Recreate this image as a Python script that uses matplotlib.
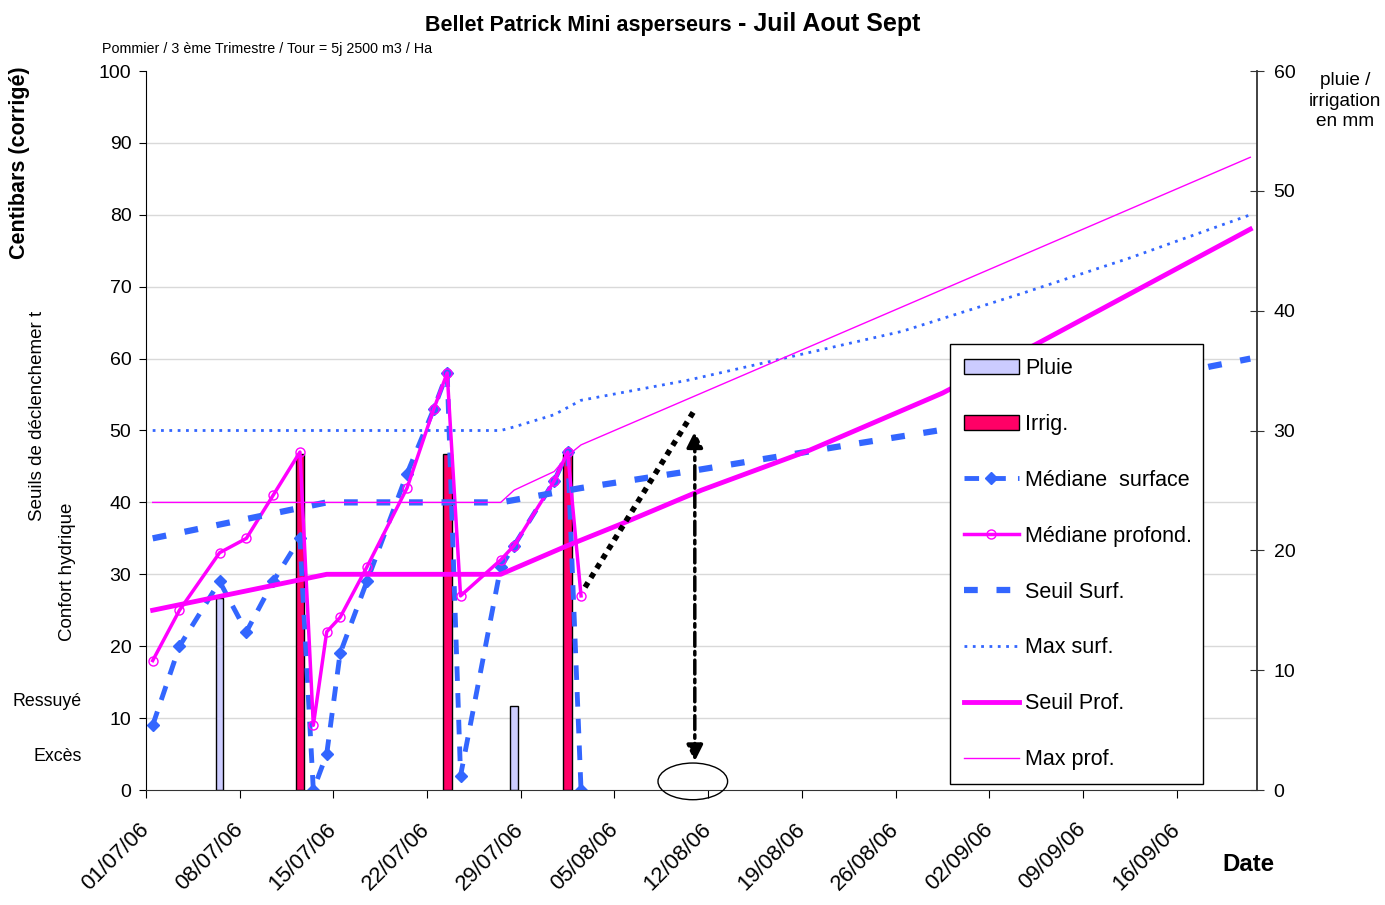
import numpy as np
import pandas as pd
import matplotlib
matplotlib.use('Agg')
import matplotlib.pyplot as plt
import matplotlib.dates as mdates
from matplotlib.patches import Ellipse

plt.rcParams['font.family'] = ['Liberation Sans', 'DejaVu Sans']

# relevés (centibars), tous les jours de mesure
med_dates = ['2006-07-01', '2006-07-03', '2006-07-06', '2006-07-08', '2006-07-10',
             '2006-07-12', '2006-07-13', '2006-07-14', '2006-07-15', '2006-07-17',
             '2006-07-20', '2006-07-22', '2006-07-23', '2006-07-24', '2006-07-27',
             '2006-07-28', '2006-07-31', '2006-08-01', '2006-08-02']
med_surface = [9, 20, 29, 22, 29, 35, 0, 5, 19, 29, 44, 53, 58, 2, 31, 34, 43, 47, 0]
med_profond = [18, 25, 33, 35, 41, 47, 9, 22, 24, 31, 42, 53, 58, 27, 32, 34, 43, 47, 27]

# seuils / max
seuil_surf_dates = ['2006-07-01', '2006-07-14', '2006-07-27', '2006-08-02', '2006-08-11',
                    '2006-08-22', '2006-08-29', '2006-09-18', '2006-09-21']
seuil_surf = [35, 40, 40, 42, 44.6, 48, 50.1, 58.9, 60]

seuil_prof_dates = ['2006-07-01', '2006-07-14', '2006-07-27', '2006-08-01', '2006-08-05',
                    '2006-08-11', '2006-08-19', '2006-08-29', '2006-09-05', '2006-09-21']
seuil_prof = [25, 30, 30, 34, 37, 41.7, 47.2, 55.2, 62, 78]

max_surf_dates = ['2006-07-01', '2006-07-27', '2006-07-28', '2006-07-31', '2006-08-02',
                  '2006-08-10', '2006-08-18', '2006-08-26', '2006-09-04', '2006-09-12',
                  '2006-09-21']
max_surf = [50, 50, 50.5, 52.2, 54.2, 57, 60.4, 63.8, 69.1, 74, 80]

max_prof_dates = ['2006-07-01', '2006-07-27', '2006-07-28', '2006-07-31', '2006-08-01',
                  '2006-08-02', '2006-09-21']
max_prof = [40, 40, 41.7, 44.3, 46.5, 48, 88]

# pluie / irrigation (mm)
pluie_dates = ['2006-07-06', '2006-07-28']
pluie = [16, 7]
irrig_dates = ['2006-07-12', '2006-07-23', '2006-08-01']
irrig = [28, 28, 28]

tick_dates = pd.date_range('2006-07-01', '2006-09-16', freq='7D')
t0 = pd.Timestamp('2006-07-01')
t_end = pd.Timestamp('2006-09-22')


def d(lst):
    # mesures placées à midi
    return pd.to_datetime(lst) + pd.Timedelta(hours=12)


BLUE = '#3366FF'
MAG = '#FF00FF'
GRID = '#d9d9d9'

W, H = 1385, 905
fig = plt.figure(figsize=(W / 100, H / 100), dpi=100)
ax = fig.add_axes([146 / W, 1 - 790 / H, (1257 - 146) / W, (790 - 71) / H])
ax2 = ax.twinx()
ax.set_zorder(2)
ax2.set_zorder(1)
ax.patch.set_visible(False)

# barres (axe de droite)
b1 = ax2.bar(d(pluie_dates), pluie, width=0.55, color='#CCCCFF', edgecolor='black',
             linewidth=1, label='Pluie')
b2 = ax2.bar(d(irrig_dates), irrig, width=0.65, color='#FF0066', edgecolor='black',
             linewidth=1, label='Irrig.')

# courbes (axe de gauche)
l1, = ax.plot(d(med_dates), med_surface, color=BLUE, lw=3.5, ls=(0, (3, 2.5)),
              marker='D', ms=6.5, mfc=BLUE, mec=BLUE, label='Médiane  surface')
l2, = ax.plot(d(med_dates), med_profond, color=MAG, lw=2.5, marker='o', ms=6.5,
              mfc='none', mec=MAG, mew=1, label='Médiane profond.')
l3, = ax.plot(d(seuil_surf_dates), seuil_surf, color=BLUE, lw=4.5, ls=(0, (2.2, 3)),
              label='Seuil Surf.')
l4, = ax.plot(d(max_surf_dates), max_surf, color=BLUE, lw=2, ls=(0, (1, 2)),
              label='Max surf.')
l5, = ax.plot(d(seuil_prof_dates), seuil_prof, color=MAG, lw=3.5, label='Seuil Prof.')
l6, = ax.plot(d(max_prof_dates), max_prof, color=MAG, lw=1, label='Max prof.')

# annotations
dot_x = [t0 + pd.Timedelta(days=32.8), t0 + pd.Timedelta(days=41.0)]
dot_y = [28.2, 52.9]
ax.plot(dot_x, dot_y, color='black', lw=4, ls=(0, (1, 1)), solid_capstyle='butt')

arr_x = t0 + pd.Timedelta(days=41.0)
ax.annotate('', xy=(arr_x, 49.9), xytext=(arr_x, 4.0),
            arrowprops=dict(arrowstyle='<|-|>', color='black', lw=2.5,
                            ls=(0, (4, 1.5, 1, 1.5)), mutation_scale=24,
                            shrinkA=0, shrinkB=0))

ell_x = mdates.date2num(t0 + pd.Timedelta(days=40.85))
ax.add_patch(Ellipse((ell_x, 1.2), 5.2, 5.1, fill=False, edgecolor='black', lw=1,
                     clip_on=False, zorder=5))

# axes
ax.set_xlim(t0, t_end)
ax.set_ylim(0, 100)
ax.set_yticks(np.arange(0, 101, 10))
ax2.set_ylim(0, 60)
ax2.set_yticks(np.arange(0, 61, 10))
ax2.set_yticks(np.arange(0, 61, 6), minor=True)

ax.set_xticks(tick_dates)
ax.xaxis.set_major_formatter(mdates.DateFormatter('%d/%m/%y'))
ax.tick_params(axis='x', labelsize=15.8, length=6, pad=20, direction='out',
               labelrotation=45)
plt.setp(ax.get_xticklabels(), ha='right', va='center', rotation_mode='anchor')
ax.tick_params(axis='y', labelsize=14, length=5, pad=5.5, direction='out')
ax2.tick_params(axis='y', which='major', labelsize=14, length=10, pad=7,
                direction='inout', color='#333333')
ax2.tick_params(axis='y', which='minor', length=0)

ax2.grid(axis='x', color=GRID, lw=1)
ax2.grid(axis='y', which='minor', color=GRID, lw=1)
ax2.set_axisbelow(True)

for s in ['top', 'right']:
    ax.spines[s].set_visible(False)
for s in ['top', 'left', 'bottom']:
    ax2.spines[s].set_visible(False)
ax2.spines['right'].set_color('#333333')
ax2.spines['right'].set_linewidth(1.3)
ax.spines['left'].set_color('black')
ax.spines['bottom'].set_color('#333333')

# légende
handles = [b1, b2, l1, l2, l3, l4, l5, l6]
leg = ax.legend(handles, [h.get_label() for h in handles], loc='upper left',
                bbox_to_anchor=(950 / W, 1 - 345 / H, 253 / W, 0.001),
                bbox_transform=fig.transFigure, mode='expand', fontsize=15.5,
                frameon=True, fancybox=False, edgecolor='black', framealpha=1,
                borderpad=0.65, labelspacing=1.62, handlelength=2.55,
                handletextpad=0.28, borderaxespad=0)
leg.get_frame().set_linewidth(1)

# textes
fig.text(732 / W, 1 - 31 / H, 'Bellet Patrick Mini asperseurs', ha='right',
         va='baseline', fontsize=15.5, weight='bold')
fig.text(738 / W, 1 - 31 / H, '- Juil Aout Sept', ha='left', va='baseline',
         fontsize=18, weight='bold')
fig.text(102 / W, 1 - 49 / H, 'Pommier / 3 ème Trimestre / Tour = 5j 2500 m3 / Ha',
         ha='left', va='center', fontsize=10.3)
fig.text(20 / W, 1 - 163 / H, 'Centibars (corrigé)', rotation=90, ha='center',
         va='center', fontsize=15.5, weight='bold')
fig.text(38 / W, 1 - 416 / H, 'Seuils de déclenchemer t', rotation=90, ha='center',
         va='center', fontsize=13.5)
fig.text(67 / W, 1 - 572 / H, 'Confort hydrique', rotation=90, ha='center',
         va='center', fontsize=13.5)
fig.text(47 / W, 1 - 702 / H, 'Ressuyé', ha='center', va='center', fontsize=12.8)
fig.text(58 / W, 1 - 756 / H, 'Excès', ha='center', va='center', fontsize=12.8)
fig.text(1345 / W, 1 - 101 / H, 'pluie /\nirrigation\nen mm', ha='center',
         va='center', fontsize=13.7, linespacing=1.25)
fig.text(1248 / W, 1 - 864 / H, 'Date', ha='center', va='center', fontsize=17.3,
         weight='bold')

fig.savefig('out.png', dpi=100)
